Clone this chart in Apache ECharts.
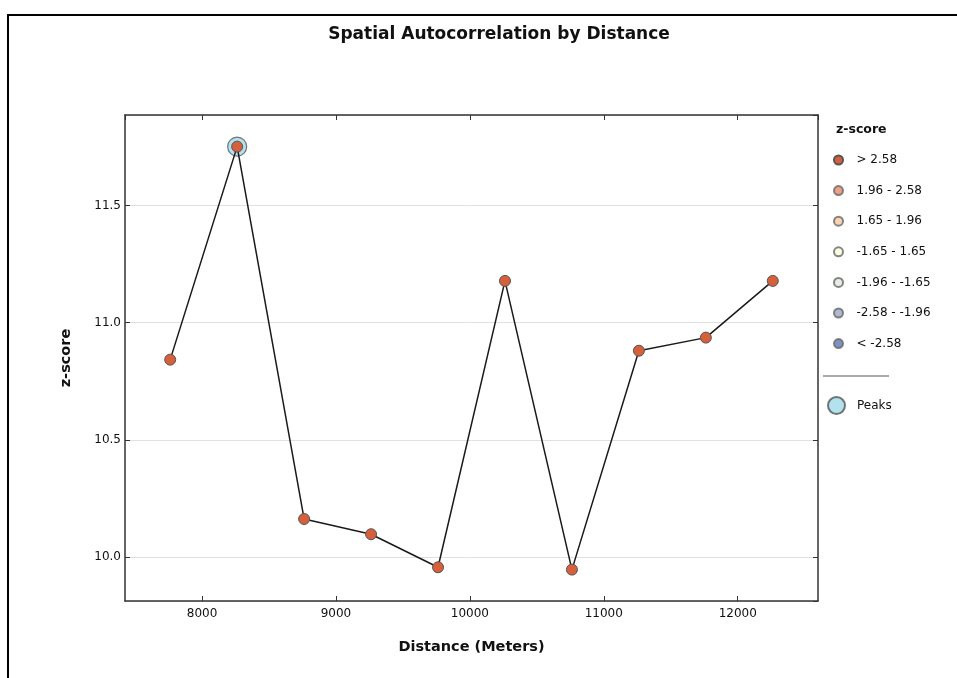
<!DOCTYPE html>
<html><head><meta charset="utf-8">
<script src="https://cdn.jsdelivr.net/npm/echarts@6/dist/echarts.min.js"></script>
<style>html,body{margin:0;padding:0;background:#fff}#c{width:957px;height:678px}</style>
</head><body><div id="c"></div>
<script>
const distances = [7762, 8262, 8762, 9262, 9762, 10262, 10762, 11262, 11762, 12262];
const zScores = [10.842, 11.751, 10.162, 10.097, 9.956, 11.178, 9.946, 10.880, 10.936, 11.178];
const peakIndices = [1];
const classLabels = ['> 2.58', '1.96 - 2.58', '1.65 - 1.96', '-1.65 - 1.65', '-1.96 - -1.65', '-2.58 - -1.96', '< -2.58'];
const classColors = ['#d65f3c', '#e8876a', '#f7c9a1', '#fdfcd9', '#dfe9de', '#9aa9c7', '#5b78b2'];
const peakLabel = 'Peaks';

const points = distances.map((d, i) => [d, zScores[i]]);
const peakPoints = peakIndices.map(i => [distances[i], zScores[i]]);

const font = 'DejaVu Sans';
const chart = echarts.init(document.getElementById('c'), null, {renderer: 'canvas'});

const axisCommon = {
  axisLine: {show: true, onZero: false, lineStyle: {color: '#333', width: 1.5}},
  axisTick: {show: true, inside: true, length: 5, lineStyle: {color: '#333', width: 1}}
};

const series = [
  {
    name: peakLabel, type: 'scatter', data: peakPoints, symbol: 'circle', symbolSize: 19, z: 1,
    itemStyle: {color: '#9fdbe9', borderColor: '#555', borderWidth: 1.2}
  },
  {
    name: classLabels[0], type: 'line', data: points, symbol: 'circle', symbolSize: 11, z: 3,
    lineStyle: {color: '#1a1a1a', width: 1.5},
    itemStyle: {color: classColors[0], borderColor: '#555', borderWidth: 1}
  }
];
for (let i = 1; i < classLabels.length; i++) {
  series.push({
    name: classLabels[i], type: 'scatter', data: [],
    itemStyle: {color: classColors[i], borderColor: '#666', borderWidth: 1}
  });
}

chart.setOption({
  animation: false,
  backgroundColor: '#fff',
  title: {
    text: 'Spatial Autocorrelation by Distance', left: 494, top: 21, textAlign: 'center',
    textStyle: {fontFamily: font, fontWeight: 'bold', fontSize: 17, color: '#111'}
  },
  grid: {left: 125, top: 115, right: 139, bottom: 77, containLabel: false},
  xAxis: [
    Object.assign({}, axisCommon, {
      type: 'value', position: 'bottom', min: 7424.5, max: 12599.5, splitNumber: 5,
      splitLine: {show: false},
      axisLabel: {showMinLabel: false, showMaxLabel: false, fontFamily: font, fontSize: 12, color: '#111', margin: 7,
        formatter: v => String(Math.round(v))},
      name: 'Distance (Meters)', nameLocation: 'middle', nameGap: 39,
      nameTextStyle: {fontFamily: font, fontWeight: 'bold', fontSize: 14.5, color: '#111'}
    }),
    Object.assign({}, axisCommon, {
      type: 'value', position: 'top', min: 7424.5, max: 12599.5, splitNumber: 5,
      splitLine: {show: false}, axisLabel: {show: false}
    })
  ],
  yAxis: [
    Object.assign({}, axisCommon, {
      type: 'value', position: 'left', min: 9.812, max: 11.886, splitNumber: 4,
      splitLine: {show: true, lineStyle: {color: '#e0e0e0', width: 1}},
      axisLabel: {showMinLabel: false, showMaxLabel: false, fontFamily: font, fontSize: 12, color: '#111', margin: 4,
        formatter: v => v.toFixed(1)},
      name: 'z-score', nameLocation: 'middle', nameGap: 51, nameRotate: 90,
      nameTextStyle: {fontFamily: font, fontWeight: 'bold', fontSize: 14.5, color: '#111'}
    }),
    Object.assign({}, axisCommon, {
      type: 'value', position: 'right', min: 9.812, max: 11.886, splitNumber: 4,
      splitLine: {show: false}, axisLabel: {show: false}
    })
  ],
  legend: [
    {
      data: classLabels, orient: 'vertical', left: 828, top: 148, icon: 'circle',
      itemWidth: 26, itemHeight: 9, itemGap: 16.6, selectedMode: false,
      textStyle: {fontFamily: font, fontSize: 12, color: '#111', lineHeight: 14}
    },
    {
      data: [peakLabel], orient: 'vertical', left: 822, top: 391, icon: 'circle',
      itemWidth: 31, itemHeight: 17, selectedMode: false,
      textStyle: {fontFamily: font, fontSize: 12, color: '#111', lineHeight: 14}
    }
  ],
  graphic: [
    {type: 'polyline', shape: {points: [[8, 678], [8, 15], [957, 15]]}, style: {stroke: '#000', lineWidth: 2, fill: null}},
    {type: 'text', left: 836, top: 123, style: {text: 'z-score', fontFamily: font, fontWeight: 'bold', fontSize: 12.5, fill: '#111'}},
    {type: 'line', shape: {x1: 823, y1: 376, x2: 889, y2: 376}, style: {stroke: '#555', lineWidth: 1}}
  ],
  series: series
});
</script>
</body></html>
